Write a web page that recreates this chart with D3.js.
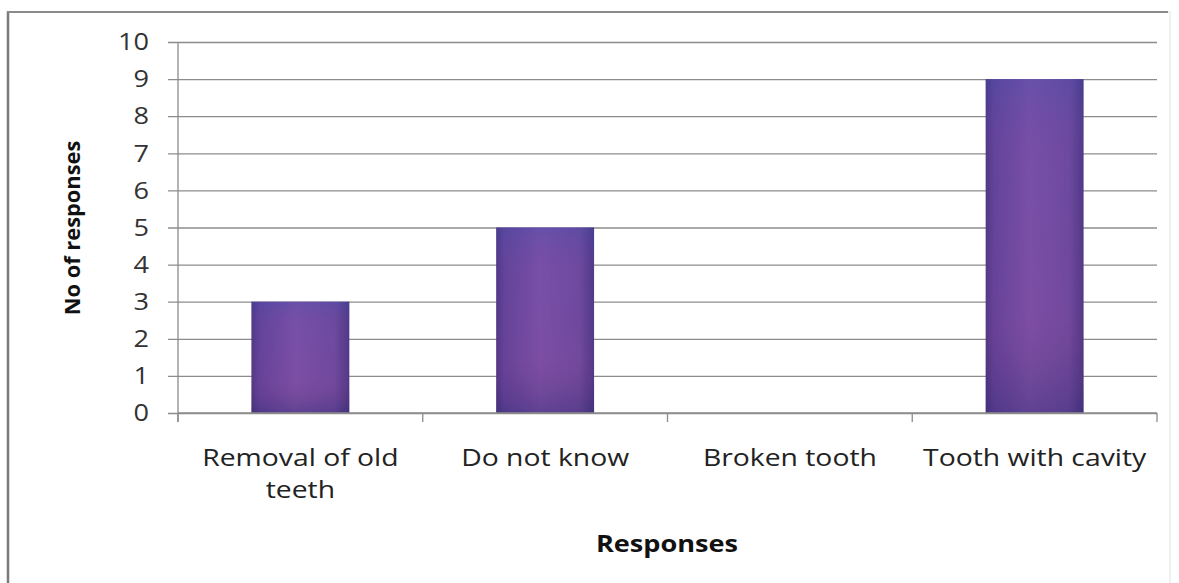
<!DOCTYPE html>
<html>
<head>
<meta charset="utf-8">
<script src="https://cdn.jsdelivr.net/npm/d3@7"></script>
<style>
  html, body { margin: 0; padding: 0; background: #fff; }
  svg { display: block; }
</style>
</head>
<body>
<script>
// Responses about reasons for tooth extraction
const categories = ["Removal of old teeth", "Do not know", "Broken tooth", "Tooth with cavity"];
const categoryLines = [["Removal of old", "teeth"], ["Do not know"], ["Broken tooth"], ["Tooth with cavity"]];
const responses = [3, 5, 0, 9];
const yTicks = [0, 1, 2, 3, 4, 5, 6, 7, 8, 9, 10];

const W = 1179, H = 583;
const plot = { left: 178, right: 1157, top: 42, bottom: 413 };
const font = "'Open Sans', 'Noto Sans', sans-serif";

const svg = d3.select("body").append("svg").attr("width", W).attr("height", H);

// chart frame
svg.append("rect").attr("x", 8).attr("y", 12).attr("width", 1162).attr("height", 600)
  .attr("fill", "#fff").attr("stroke", "#e2e2e2").attr("stroke-width", 1);
svg.append("line").attr("x1", 8).attr("x2", 8).attr("y1", 11).attr("y2", H)
  .attr("stroke", "#7a7a7a").attr("stroke-width", 2.5);
svg.append("line").attr("x1", 7).attr("x2", 1168).attr("y1", 12).attr("y2", 12)
  .attr("stroke", "#8a8a8a").attr("stroke-width", 2);

const x = d3.scaleBand().domain(categories).range([plot.left, plot.right]).paddingInner(0.6).paddingOuter(0.3);
const xEdge = d3.scaleLinear().domain([0, categories.length]).range([plot.left, plot.right]);
const y = d3.scaleLinear().domain([0, 10]).range([plot.bottom, plot.top]);

// bar gradients
const defs = svg.append("defs");
const gh = defs.append("linearGradient").attr("id", "barH").attr("x1", 0).attr("x2", 1).attr("y1", 0).attr("y2", 0);
[[0, "#4a3784"], [0.08, "#5f439a"], [0.45, "#7651a8"], [0.85, "#6a4aa0"], [1, "#4b3886"]]
  .forEach(([o, c]) => gh.append("stop").attr("offset", o).attr("stop-color", c));
const gv = defs.append("linearGradient").attr("id", "barV").attr("x1", 0).attr("x2", 0).attr("y1", 0).attr("y2", 1);
[[0, "#3e4fb0", 0.25], [0.3, "#a04090", 0.06], [0.7, "#b03a80", 0.1], [1, "#2a1f60", 0.3]]
  .forEach(([o, c, a]) => gv.append("stop").attr("offset", o).attr("stop-color", c).attr("stop-opacity", a));
const blur = defs.append("filter").attr("id", "soft").attr("x", "-5%").attr("y", "-5%").attr("width", "110%").attr("height", "110%");
blur.append("feGaussianBlur").attr("stdDeviation", 0.7);

// gridlines with short ticks left of the axis
const yAxis = d3.axisLeft(y).tickValues(yTicks).tickSize(plot.right - plot.left + 10).tickFormat("");
const gy = svg.append("g").attr("transform", `translate(${plot.right},0)`).call(yAxis);
gy.select(".domain").remove();
gy.selectAll(".tick line").attr("stroke", "#8c8c8c").attr("stroke-width", 1.3);

// y tick labels
svg.append("g").selectAll("text").data(yTicks).join("text")
  .attr("transform", d => `translate(149,${y(d)}) scale(1.18,1)`)
  .attr("dy", "0.36em").attr("text-anchor", "end")
  .attr("font-family", font).attr("font-size", 23).attr("fill", "#333")
  .text(d => d);

// y axis line
svg.append("line").attr("x1", plot.left).attr("x2", plot.left).attr("y1", plot.top).attr("y2", plot.bottom + 9)
  .attr("stroke", "#8c8c8c").attr("stroke-width", 1.3);

// bars
const bars = svg.append("g").attr("filter", "url(#soft)");
bars.selectAll("rect.bar").data(categories).join("rect").attr("class", "bar")
  .attr("x", d => x(d)).attr("width", x.bandwidth())
  .attr("y", (d, i) => y(responses[i])).attr("height", (d, i) => y(0) - y(responses[i]))
  .attr("fill", "url(#barH)");
bars.selectAll("rect.tint").data(categories).join("rect").attr("class", "tint")
  .attr("x", d => x(d)).attr("width", x.bandwidth())
  .attr("y", (d, i) => y(responses[i])).attr("height", (d, i) => y(0) - y(responses[i]))
  .attr("fill", "url(#barV)");

// x axis with category boundaries
const gx = svg.append("g");
gx.append("line").attr("x1", plot.left).attr("x2", plot.right).attr("y1", plot.bottom).attr("y2", plot.bottom)
  .attr("stroke", "#8c8c8c").attr("stroke-width", 1.3);
gx.selectAll("line.tk").data(d3.range(categories.length + 1)).join("line").attr("class", "tk")
  .attr("x1", d => xEdge(d)).attr("x2", d => xEdge(d)).attr("y1", plot.bottom).attr("y2", plot.bottom + 9)
  .attr("stroke", "#8c8c8c").attr("stroke-width", 1.3);

// category labels
const labels = svg.append("g").attr("font-family", font).attr("font-size", 24).attr("fill", "#222")
  .attr("text-anchor", "middle");
categories.forEach((c, i) => {
  const cx = x(c) + x.bandwidth() / 2;
  const t = labels.append("text").attr("transform", `translate(${cx},466) scale(1.18,1)`);
  categoryLines[i].forEach((ln, j) => t.append("tspan").attr("x", 0).attr("dy", j ? 32 : 0).text(ln));
});

// axis titles
svg.append("text").attr("transform", "translate(667,552) scale(1.18,1)").attr("text-anchor", "middle")
  .attr("font-family", font).attr("font-weight", "bold").attr("font-size", 23).attr("fill", "#111").text("Responses");
svg.append("text").attr("transform", "translate(80,228) rotate(-90) scale(1.04,1)").attr("text-anchor", "middle")
  .attr("font-family", font).attr("font-weight", "bold").attr("font-size", 21).attr("fill", "#111").text("No of responses");
</script>
</body>
</html>
